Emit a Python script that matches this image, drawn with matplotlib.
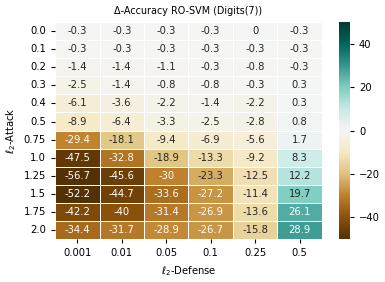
import matplotlib
matplotlib.use("Agg")
import matplotlib.pyplot as plt
import seaborn as sns
import numpy as np
import pandas as pd

defense = ["0.001", "0.01", "0.05", "0.1", "0.25", "0.5"]
attack = ["0.0", "0.1", "0.2", "0.3", "0.4", "0.5", "0.75", "1.0", "1.25", "1.5", "1.75", "2.0"]
row_00 = [-0.3, -0.3, -0.3, -0.3, 0, -0.3]
row_01 = [-0.3, -0.3, -0.3, -0.3, -0.3, -0.3]
row_02 = [-1.4, -1.4, -1.1, -0.3, -0.8, -0.3]
row_03 = [-2.5, -1.4, -0.8, -0.8, -0.3, 0.3]
row_04 = [-6.1, -3.6, -2.2, -1.4, -2.2, 0.3]
row_05 = [-8.9, -6.4, -3.3, -2.5, -2.8, 0.8]
row_075 = [-29.4, -18.1, -9.4, -6.9, -5.6, 1.7]
row_10 = [-47.5, -32.8, -18.9, -13.3, -9.2, 8.3]
row_125 = [-56.7, -45.6, -30, -23.3, -12.5, 12.2]
row_15 = [-52.2, -44.7, -33.6, -27.2, -11.4, 19.7]
row_175 = [-42.2, -40, -31.4, -26.9, -13.6, 26.1]
row_20 = [-34.4, -31.7, -28.9, -26.7, -15.8, 28.9]

rows = [row_00, row_01, row_02, row_03, row_04, row_05, row_075,
        row_10, row_125, row_15, row_175, row_20]
df = pd.DataFrame(rows, index=attack, columns=defense)

fig = plt.figure(figsize=(3.85, 2.82), dpi=100)
ax = fig.add_axes([0.143, 0.152, 0.693, 0.770])
cax = fig.add_axes([0.880, 0.152, 0.029, 0.770])

fs = 7.2
sns.heatmap(df, ax=ax, cbar_ax=cax, cmap="BrBG", vmin=-50, vmax=50,
            annot=True, fmt="g", linewidths=0.5, linecolor="white",
            annot_kws={"fontsize": fs})
ax.set_title("Δ-Accuracy RO-SVM (Digits(7))", fontsize=6.9)
ax.set_xlabel(r"$\ell_2$-Defense", fontsize=fs)
ax.set_ylabel(r"$\ell_2$-Attack", fontsize=fs)
ax.tick_params(axis="both", labelsize=fs, length=3)
ax.set_yticklabels(attack, rotation=0)
ax.set_xticklabels(defense, rotation=0)
cax.set_yticks([-40, -20, 0, 20, 40])
cax.tick_params(labelsize=fs, length=3)

fig.savefig("out.png", dpi=100)
